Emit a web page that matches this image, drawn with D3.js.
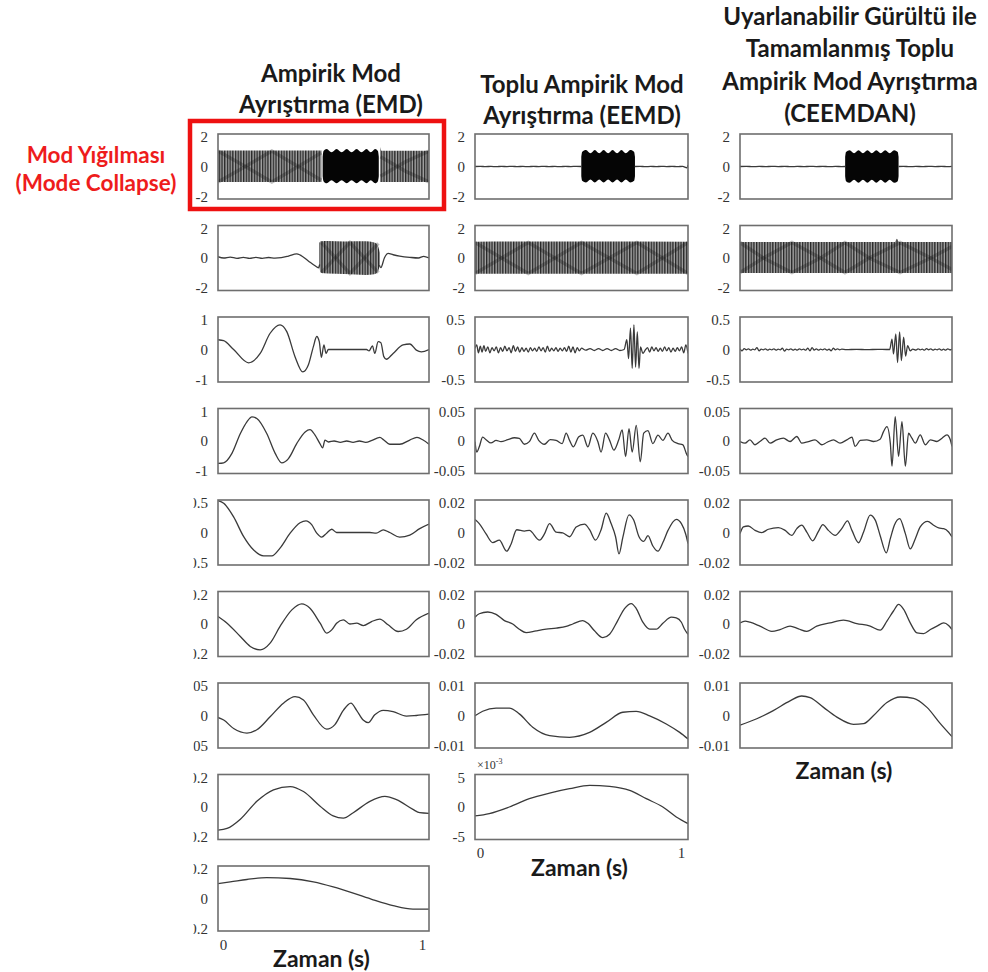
<!DOCTYPE html>
<html>
<head>
<meta charset="utf-8">
<script src="https://cdn.jsdelivr.net/npm/d3@7"></script>
<style>
  body { margin: 0; background: #fff; }
  svg { display: block; }
  .title { font-family: Lato, "Open Sans", sans-serif; font-weight: 700; fill: #1a1a1a; }
</style>
</head>
<body>
<script>
// column titles / labels
var titleEMD = ["Ampirik Mod", "Ayrıştırma (EMD)"];
var titleEEMD = ["Toplu Ampirik Mod", "Ayrıştırma (EEMD)"];
var titleCEEMDAN = ["Uyarlanabilir Gürültü ile", "Tamamlanmış Toplu", "Ampirik Mod Ayrıştırma", "(CEEMDAN)"];
var collapseLabel = ["Mod Yığılması", "(Mode Collapse)"];
var xTickLabels = ["0", "1"];

// y range (top tick) of each panel
var emdMax = [2, 2, 1, 1, 0.5, 0.2, 0.05, 0.2, 0.2];
var eemdMax = [2, 2, 0.5, 0.05, 0.02, 0.02, 0.01, 5];
var ceemMax = [2, 2, 0.5, 0.05, 0.02, 0.02, 0.01];

// dense oscillation envelopes: [t, upper, lower]
var emd1HatchA = [[0, 0.98, -0.95], [0.49, 0.98, -0.95]];
var emd1Block = [[0.496, 0.6, -0.6], [0.5, 0.95, -0.9], [0.515, 1.08, -1.03], [0.538, 0.88, -0.84], [0.562, 1.08, -1.03], [0.586, 0.88, -0.84], [0.61, 1.08, -1.03], [0.633, 0.88, -0.84], [0.657, 1.08, -1.03], [0.68, 0.88, -0.84], [0.704, 1.08, -1.03], [0.724, 0.88, -0.84], [0.745, 1.08, -1.03], [0.758, 0.95, -0.9], [0.762, 0.6, -0.6]];
var emd1HatchB = [[0.768, 1.2, -0.95], [0.775, 0.97, -0.95], [1, 0.97, -0.95]];
var emd2Hatch = [[0.48, 0.93, -0.48], [0.487, 1.03, -0.9], [0.52, 1.05, -0.95], [0.6, 1.02, -0.98], [0.7, 1.03, -1.04], [0.74, 0.95, -1.0], [0.755, 0.83, -0.89], [0.767, 0.32, -0.48]];
var eemd1Block = [[0.499, 0.6, -0.6], [0.503, 0.9, -0.88], [0.521, 1.02, -0.98], [0.542, 0.82, -0.8], [0.5625, 1.02, -0.98], [0.583, 0.82, -0.8], [0.604, 1.02, -0.98], [0.625, 0.82, -0.8], [0.646, 1.02, -0.98], [0.667, 0.82, -0.8], [0.6875, 1.02, -0.98], [0.708, 0.82, -0.8], [0.729, 1.02, -0.98], [0.747, 0.9, -0.88], [0.751, 0.6, -0.6]];
var eemd2Hatch = [[0, 1.0, -0.97], [0.5, 1.02, -0.97], [1, 1.0, -0.97]];
var ceem1Block = [[0.496, 0.6, -0.6], [0.5, 0.9, -0.9], [0.517, 1.0, -1.0], [0.538, 0.82, -0.82], [0.559, 1.0, -1.0], [0.58, 0.82, -0.82], [0.601, 1.0, -1.0], [0.622, 0.82, -0.82], [0.643, 1.0, -1.0], [0.664, 0.82, -0.82], [0.685, 1.0, -1.0], [0.706, 0.82, -0.82], [0.727, 1.0, -1.0], [0.744, 0.9, -0.9], [0.748, 0.6, -0.6]];
var ceem2Hatch = [[0, 0.98, -0.92], [0.73, 0.98, -0.92], [0.74, 1.19, -0.92], [0.75, 0.98, -0.92], [1, 0.98, -0.92]];

// beat pattern (crossing streaks) inside the dense bands: [t, value]
var emd1BeatA = [[0, 0.95], [0.13, 0], [0.255, -0.95], [0.38, 0], [0.49, 0.85], null, [0.77, -0.6], [0.89, 0.3], [1, 0.95]];
var emd1BeatB = [[0, -0.95], [0.13, 0], [0.255, 0.95], [0.38, 0], [0.49, -0.85], null, [0.77, 0.6], [0.89, -0.3], [1, -0.95]];
var emd2BeatA = [[0.49, 0.95], [0.625, -0.95], [0.76, 0.9]];
var emd2BeatB = [[0.49, -0.9], [0.625, 0.95], [0.76, -0.9]];
var eemd2BeatA = [[0, 0.95], [0.125, 0], [0.25, -0.95], [0.375, 0], [0.5, 0.95], [0.63, 0], [0.76, -0.95], [0.88, 0], [1, 0.95]];
var eemd2BeatB = [[0, -0.95], [0.125, 0], [0.25, 0.95], [0.375, 0], [0.5, -0.95], [0.63, 0], [0.76, 0.95], [0.88, 0], [1, -0.95]];
var ceem2BeatA = [[0, 0.95], [0.11, 0], [0.245, -0.9], [0.38, 0], [0.495, 0.95], [0.61, 0], [0.755, -0.9], [0.9, 0], [1, 0.7]];
var ceem2BeatB = [[0, -0.9], [0.11, 0], [0.245, 0.95], [0.38, 0], [0.495, -0.9], [0.61, 0], [0.755, 0.95], [0.9, 0], [1, -0.7]];

// line series: [t, value], null = gap
var emd1 = [];
var emd2 = [[0, 0.08], [0.027, 0], [0.058, 0.06], [0.09, -0.02], [0.12, 0.04], [0.15, -0.02], [0.18, 0.04], [0.21, -0.02], [0.24, 0.03], [0.27, -0.01], [0.3, 0.02], [0.334, 0.12], [0.373, 0.26], [0.39, 0.18], [0.428, -0.18], [0.46, -0.48], [0.476, -0.6], [0.482, -0.4], null,
  [0.765, -0.45], [0.772, -0.59], [0.789, 0.02], [0.806, 0.28], [0.83, 0.2], [0.861, 0.12], [0.909, 0.04], [0.95, 0], [0.975, 0.1], [1, 0]];
var emd3 = [[0, 0.3], [0.027, 0.27], [0.074, 0], [0.145, -0.41], [0.2, -0.12], [0.247, 0.5], [0.294, 0.76], [0.326, 0.55], [0.365, -0.22], [0.402, -0.69], [0.428, -0.48], [0.452, 0.09], [0.468, 0.4], [0.48, 0.24], [0.49, -0.24], [0.502, 0.14], [0.512, -0.12], [0.523, 0], [0.704, 0], [0.716, -0.04], [0.732, 0.11], [0.743, -0.12], [0.759, 0.24], [0.772, 0.21], [0.786, -0.22], [0.798, -0.3], [0.83, -0.12], [0.877, 0.14], [0.909, 0.17], [0.94, -0.02], [0.964, -0.07], [1, 0]];
var emd4 = [[0, -0.69], [0.027, -0.67], [0.066, -0.38], [0.106, 0.23], [0.137, 0.59], [0.161, 0.74], [0.184, 0.69], [0.231, 0.23], [0.271, -0.38], [0.302, -0.67], [0.334, -0.54], [0.373, -0.08], [0.413, 0.28], [0.436, 0.35], [0.46, 0.18], [0.483, -0.08], [0.496, -0.21], [0.507, 0.03], [0.523, -0.03], [0.55, 0], [0.58, -0.04], [0.61, 0], [0.64, -0.04], [0.67, 0], [0.7, -0.04], [0.73, 0.02], [0.767, 0.11], [0.786, 0.03], [0.814, -0.1], [0.861, -0.1], [0.909, 0.03], [0.943, 0.11], [0.972, 0.03], [1, -0.1]];
var emd5 = [[0, 0.49], [0.027, 0.45], [0.074, 0.24], [0.121, -0.06], [0.169, -0.27], [0.216, -0.36], [0.255, -0.36], [0.294, -0.24], [0.342, -0.01], [0.389, 0.15], [0.417, 0.18], [0.444, 0.12], [0.468, -0.01], [0.491, -0.07], [0.515, -0.01], [0.539, 0.05], [0.562, 0], [0.61, 0], [0.72, 0], [0.75, -0.01], [0.783, 0.04], [0.814, 0], [0.861, -0.07], [0.909, -0.04], [0.956, 0.06], [1, 0.13]];
var emd6 = [[0, 0.046], [0.043, 0.005], [0.106, -0.077], [0.153, -0.138], [0.2, -0.159], [0.247, -0.118], [0.294, -0.015], [0.35, 0.087], [0.397, 0.124], [0.436, 0.097], [0.484, 0.005], [0.515, -0.056], [0.539, -0.036], [0.562, 0.005], [0.594, 0.026], [0.625, 0], [0.657, 0.005], [0.689, -0.01], [0.728, 0.015], [0.767, 0.03], [0.806, -0.005], [0.854, -0.046], [0.893, -0.032], [0.94, 0.026], [1, 0.067]];
var emd7 = [[0, -0.003], [0.027, -0.007], [0.074, -0.02], [0.137, -0.027], [0.184, -0.022], [0.247, -0.002], [0.31, 0.019], [0.365, 0.029], [0.405, 0.024], [0.452, 0.001], [0.515, -0.021], [0.554, -0.014], [0.594, 0.008], [0.63, 0.019], [0.657, 0.008], [0.688, -0.007], [0.712, -0.011], [0.743, 0.001], [0.783, 0.008], [0.83, 0.006], [0.893, -0.001], [0.94, 0], [1, 0.002]];
var emd8 = [[0, -0.142], [0.043, -0.132], [0.106, -0.075], [0.184, 0.035], [0.263, 0.106], [0.342, 0.126], [0.405, 0.095], [0.484, 0.005], [0.546, -0.055], [0.594, -0.069], [0.641, -0.035], [0.72, 0.035], [0.791, 0.065], [0.846, 0.045], [0.924, -0.015], [0.956, -0.035], [1, -0.039]];
var emd9 = [[0, 0.092], [0.058, 0.102], [0.137, 0.117], [0.231, 0.129], [0.342, 0.123], [0.452, 0.102], [0.546, 0.071], [0.641, 0.033], [0.735, -0.008], [0.83, -0.044], [0.924, -0.065], [1, -0.065]];

var eemd1 = [[0, 0], [0.025, 0.012], [0.05, -0.01], [0.075, 0.008], [0.1, -0.012], [0.125, 0.01], [0.15, -0.008], [0.175, 0.012], [0.2, -0.01], [0.225, 0.008], [0.25, -0.012], [0.275, 0.01], [0.3, -0.008], [0.325, 0.012], [0.35, -0.01], [0.375, 0.008], [0.4, -0.012], [0.425, 0.01], [0.45, -0.008], [0.475, 0.012], [0.5, 0], null,
  [0.75, 0], [0.775, 0.01], [0.8, -0.012], [0.825, 0.008], [0.85, -0.01], [0.875, 0.012], [0.9, -0.008], [0.925, 0.01], [0.95, -0.012], [0.975, 0.01], [0.995, -0.08], [1, 0.1]];
var eemd2 = [];
var eemd3 = [[0, 0.02], [0.008, 0.07], [0.016, -0.05], [0.025, 0.05], [0.033, -0.04], [0.042, 0.06], [0.05, -0.03], [0.06, 0.04], [0.07, -0.05], [0.08, 0.03], [0.09, -0.02], [0.1, 0.04], [0.11, -0.05], [0.12, 0.03], [0.13, -0.03], [0.14, 0.05], [0.15, -0.02], [0.16, 0.03], [0.17, -0.05], [0.18, 0.06], [0.19, -0.03], [0.2, 0.04], [0.21, -0.04], [0.22, 0.03], [0.23, -0.03], [0.24, 0.02], [0.25, -0.04], [0.26, 0.03], [0.27, -0.02], [0.28, 0.02], [0.29, -0.03], [0.3, 0.04], [0.31, -0.02], [0.32, 0.03], [0.33, -0.04], [0.34, 0.05], [0.35, -0.03], [0.36, 0.02], [0.37, -0.02], [0.38, 0.03], [0.39, -0.03], [0.4, 0.02], [0.41, -0.02], [0.42, 0.03], [0.43, -0.03], [0.44, 0.05], [0.45, -0.04], [0.46, 0.04], [0.47, -0.05], [0.48, 0.03], [0.49, -0.02], [0.5, 0.02],
  [0.52, -0.01], [0.54, 0.015], [0.56, -0.015], [0.58, 0.015], [0.6, -0.015], [0.62, 0.015], [0.64, -0.015], [0.66, 0.015], [0.68, -0.015], [0.7, 0],
  [0.713, 0.15], [0.721, -0.14], [0.73, 0.33], [0.738, -0.29], [0.746, 0.38], [0.754, -0.27], [0.762, 0.27], [0.77, -0.29], [0.777, 0.04], [0.788, -0.06], [0.801, 0],
  [0.81, 0.03], [0.82, -0.04], [0.83, 0.04], [0.84, -0.02], [0.85, 0.03], [0.86, -0.03], [0.87, 0.02], [0.88, -0.03], [0.89, 0.04], [0.9, -0.02], [0.91, 0.03], [0.92, -0.04], [0.93, 0.02], [0.94, -0.03], [0.95, 0.03], [0.96, -0.02], [0.97, 0.04], [0.98, -0.05], [0.99, 0.07], [1, -0.06]];
var eemd4 = [[0, -0.001], [0.008, -0.017], [0.02, -0.009], [0.036, 0.006], [0.052, 0.002], [0.075, -0.003], [0.099, 0.001], [0.122, -0.001], [0.154, 0.002], [0.185, 0.005], [0.208, 0.004], [0.232, -0.005], [0.255, -0.001], [0.279, 0.012], [0.299, 0.001], [0.326, -0.005], [0.353, 0.002], [0.381, 0.001], [0.409, -0.004], [0.428, 0.012], [0.444, 0.001], [0.462, -0.009], [0.486, 0.006], [0.506, 0.009], [0.53, -0.009], [0.553, 0.012], [0.577, -0.001], [0.592, -0.017], [0.613, 0.012], [0.632, 0.001], [0.652, -0.014], [0.674, 0.001], [0.691, 0.017], [0.707, -0.024], [0.723, 0.019], [0.738, -0.017], [0.757, 0.024], [0.776, -0.032], [0.792, 0.012], [0.812, 0.016], [0.835, -0.004], [0.859, 0.009], [0.882, 0.001], [0.906, 0.012], [0.926, 0.001], [0.953, -0.004], [0.976, -0.006], [0.992, -0.019], [1, -0.024]];
var eemd5 = [[0, 0.008], [0.02, 0.0055], [0.052, -0.0009], [0.083, -0.0062], [0.114, -0.0047], [0.149, -0.0115], [0.169, -0.0072], [0.196, 0.0017], [0.232, 0.0009], [0.255, 0.0013], [0.303, -0.0047], [0.326, -0.0009], [0.35, 0.0055], [0.381, 0.0002], [0.412, -0.0002], [0.444, -0.0026], [0.475, 0.0034], [0.514, 0.0051], [0.538, 0.0017], [0.566, -0.0047], [0.592, 0.0017], [0.616, 0.0119], [0.639, 0.0055], [0.66, -0.0026], [0.676, -0.0132], [0.694, -0.003], [0.723, 0.0109], [0.745, 0.0077], [0.77, -0.0026], [0.792, -0.0055], [0.812, -0.0019], [0.835, -0.0083], [0.859, -0.0115], [0.882, -0.0062], [0.906, 0.0013], [0.945, 0.0081], [0.969, 0.0055], [0.989, -0.0009], [1, -0.0068]];
var eemd6 = [[0, 0.0042], [0.02, 0.0063], [0.06, 0.0074], [0.099, 0.0059], [0.138, 0.0021], [0.177, 0], [0.208, -0.0032], [0.24, -0.0053], [0.287, -0.0042], [0.334, -0.0032], [0.381, -0.0025], [0.428, -0.0015], [0.459, 0], [0.506, 0.0021], [0.53, 0.0004], [0.561, -0.0042], [0.6, -0.0084], [0.632, -0.0063], [0.67, 0.0021], [0.702, 0.0095], [0.734, 0.0126], [0.757, 0.0095], [0.788, 0.0011], [0.82, -0.0032], [0.851, -0.0032], [0.882, 0.0004], [0.922, 0.0042], [0.945, 0.0038], [0.969, 0.0011], [0.984, -0.0032], [1, -0.0063]];
var eemd7 = [[0, -0.0001], [0.036, 0.0013], [0.099, 0.0023], [0.161, 0.0023], [0.208, 0.0005], [0.271, -0.0036], [0.35, -0.0062], [0.444, -0.0067], [0.538, -0.0052], [0.616, -0.0021], [0.694, 0.001], [0.757, 0.0013], [0.82, -0.0001], [0.898, -0.0026], [0.961, -0.0052], [1, -0.0072]];
var eemd8 = [[0, -1.38], [0.067, -1.02], [0.161, 0], [0.255, 1.28], [0.35, 2.14], [0.444, 2.81], [0.538, 3.32], [0.632, 3.16], [0.726, 2.55], [0.804, 1.28], [0.882, 0], [0.945, -1.53], [1, -2.55]];

var ceem1 = [[0, 0], [0.03, 0.01], [0.06, -0.012], [0.09, 0.008], [0.12, -0.01], [0.15, 0.012], [0.18, -0.008], [0.21, 0.01], [0.24, -0.012], [0.27, 0.008], [0.3, -0.01], [0.33, 0.012], [0.36, -0.008], [0.39, 0.01], [0.42, -0.012], [0.45, 0.008], [0.48, -0.01], [0.496, 0], null,
  [0.748, 0], [0.77, 0.01], [0.8, -0.012], [0.83, 0.008], [0.86, -0.01], [0.89, 0.012], [0.92, -0.008], [0.95, 0.01], [0.98, -0.012], [1, 0.01]];
var ceem2 = [];
var ceem3 = [[0, 0.01], [0.01, -0.02], [0.02, 0.015], [0.03, -0.005], [0.04, 0.01], [0.05, -0.01], [0.06, 0.005], [0.07, -0.005], [0.08, 0.03], [0.09, -0.02], [0.1, 0.005], [0.11, -0.005], [0.12, 0.01], [0.13, -0.01], [0.14, 0.005], [0.15, -0.005], [0.16, 0.01], [0.17, -0.01], [0.18, 0.005], [0.19, -0.005], [0.2, 0.02], [0.21, -0.025], [0.22, 0.005], [0.23, -0.005], [0.24, 0.01], [0.25, -0.01], [0.26, 0.005], [0.27, -0.01], [0.28, 0.01], [0.29, -0.005], [0.3, 0.005], [0.31, -0.01], [0.32, 0.02], [0.33, -0.02], [0.34, 0.03], [0.35, -0.01], [0.36, 0.01], [0.37, -0.01], [0.38, 0.005], [0.39, -0.005], [0.4, 0.01], [0.41, -0.01], [0.42, 0.005], [0.43, -0.02], [0.44, 0.02], [0.45, -0.005], [0.46, 0.01], [0.47, -0.005], [0.48, 0.005], [0.5, -0.003], [0.55, 0.003], [0.6, -0.003], [0.65, 0.003], [0.69, 0], [0.706, 0],
  [0.717, 0.16], [0.724, -0.07], [0.735, 0.24], [0.743, -0.2], [0.753, 0.27], [0.761, -0.17], [0.772, 0.19], [0.781, -0.1], [0.791, 0.06], [0.803, -0.02],
  [0.815, 0.005], [0.83, -0.01], [0.84, 0.01], [0.85, -0.005], [0.86, 0.005], [0.87, -0.01], [0.88, 0.015], [0.89, -0.005], [0.9, 0.01], [0.91, -0.01], [0.92, 0.005], [0.93, -0.005], [0.94, 0.01], [0.95, -0.01], [0.96, 0.005], [0.97, -0.01], [0.98, 0.01], [0.99, -0.005], [1, 0.005]];
var ceem4 = [[0, -0.0008], [0.024, -0.0033], [0.047, 0.0018], [0.071, -0.0058], [0.094, -0.0008], [0.118, 0.0043], [0.142, -0.0033], [0.173, 0.0018], [0.205, 0.0043], [0.236, -0.0008], [0.268, 0.0069], [0.291, -0.0033], [0.323, -0.0008], [0.354, 0.0018], [0.386, -0.0058], [0.409, -0.0023], [0.441, 0.0018], [0.472, -0.0033], [0.504, 0.0018], [0.528, 0.0058], [0.543, -0.0084], [0.567, 0.0008], [0.598, 0.0018], [0.63, -0.0008], [0.661, 0.0028], [0.677, 0.0145], [0.693, 0.0221], [0.709, -0.0033], [0.717, -0.0388], [0.732, 0.0373], [0.748, -0.0236], [0.764, 0.0297], [0.78, -0.0388], [0.795, 0.0119], [0.811, 0.0043], [0.827, -0.0033], [0.85, 0.0094], [0.874, -0.0058], [0.898, 0.0018], [0.929, -0.0008], [0.953, 0.0043], [0.976, 0.0094], [0.992, 0.0018], [1, -0.0084]];
var ceem5 = [[0, -0.0007], [0.016, 0.0034], [0.039, 0.004], [0.071, 0.0013], [0.102, -0.0001], [0.134, 0.002], [0.181, 0.003], [0.213, 0.0013], [0.244, -0.0018], [0.268, 0.0024], [0.291, 0.0045], [0.315, 0.0003], [0.343, -0.0051], [0.37, 0.0007], [0.391, 0.0049], [0.417, 0.0013], [0.449, -0.0018], [0.48, 0.0024], [0.507, 0.0072], [0.528, 0.0013], [0.559, -0.0063], [0.583, 0.0003], [0.614, 0.0107], [0.638, 0.0076], [0.661, -0.0018], [0.69, -0.0125], [0.709, -0.0038], [0.728, 0.0045], [0.753, 0.0086], [0.78, -0.0007], [0.803, -0.0101], [0.827, -0.0038], [0.85, 0.0034], [0.885, 0.0069], [0.913, 0.0045], [0.937, 0.0028], [0.961, 0.0024], [0.984, 0.0003], [1, -0.0028]];
var ceem6 = [[0, 0.0007], [0.024, 0.0018], [0.047, 0.0011], [0.094, -0.0013], [0.15, -0.0045], [0.189, -0.0034], [0.236, -0.0013], [0.276, -0.003], [0.315, -0.0045], [0.362, -0.0013], [0.425, 0.0007], [0.488, 0.0024], [0.551, 0.0003], [0.614, -0.0013], [0.661, -0.0038], [0.693, 0.0018], [0.724, 0.008], [0.748, 0.0121], [0.772, 0.009], [0.803, 0.0007], [0.835, -0.0055], [0.866, -0.0059], [0.898, -0.0034], [0.929, -0.0013], [0.961, 0.0007], [0.984, -0.0009], [1, -0.0034]];
var ceem7 = [[0, -0.003], [0.079, -0.001], [0.157, 0.0015], [0.236, 0.0045], [0.291, 0.006], [0.331, 0.0055], [0.394, 0.0025], [0.457, -0.0005], [0.535, -0.0027], [0.583, -0.0025], [0.63, 0], [0.693, 0.004], [0.756, 0.0057], [0.819, 0.0053], [0.882, 0.0025], [0.945, -0.0025], [1, -0.0065]];

var W = 988, H = 972;
var colLeft = [218, 475, 740],
    colRight = [429, 688, 952],
    colCenter = [331, 582, 850],
    rowTop0 = 134,
    rowStep = 91.5,
    panelH = 65;

var columns = [
  { max: emdMax, lines: [emd1, emd2, emd3, emd4, emd5, emd6, emd7, emd8, emd9],
    bands: [[{ pts: emd1HatchA, kind: "hatch" }, { pts: emd1Block, kind: "solid" }, { pts: emd1HatchB, kind: "hatch" }], [{ pts: emd2Hatch, kind: "hatch" }]],
    beats: [[emd1BeatA, emd1BeatB], [emd2BeatA, emd2BeatB]] },
  { max: eemdMax, lines: [eemd1, eemd2, eemd3, eemd4, eemd5, eemd6, eemd7, eemd8],
    bands: [[{ pts: eemd1Block, kind: "solid" }], [{ pts: eemd2Hatch, kind: "hatch" }]],
    beats: [[], [eemd2BeatA, eemd2BeatB]] },
  { max: ceemMax, lines: [ceem1, ceem2, ceem3, ceem4, ceem5, ceem6, ceem7],
    bands: [[{ pts: ceem1Block, kind: "solid" }], [{ pts: ceem2Hatch, kind: "hatch" }]],
    beats: [[], [ceem2BeatA, ceem2BeatB]] }
];

var svg = d3.select("body").append("svg")
    .attr("width", W)
    .attr("height", H);

var defs = svg.append("defs");
var hatch = defs.append("pattern")
    .attr("id", "hatch")
    .attr("patternUnits", "userSpaceOnUse")
    .attr("width", 2.7)
    .attr("height", 10);
hatch.append("rect").attr("width", 2.7).attr("height", 10).attr("fill", "#a6a6a6");
hatch.append("rect").attr("width", 1.35).attr("height", 10).attr("fill", "#262626");

// first column labels are cut off on the left in the source image
defs.append("clipPath").attr("id", "labelClip")
  .append("rect").attr("x", 193.5).attr("y", 0).attr("width", W).attr("height", H);

function fmt(v) { return v === 0 ? "0" : String(v); }

function styleTicks(sel) {
  sel.selectAll(".tick text")
      .attr("font-family", "'Times New Roman', 'Liberation Serif', serif")
      .style("font-family", "'Times New Roman', 'Liberation Serif', serif")
      .style("font-size", "15px")
      .style("fill", "#333");
}

columns.forEach(function(col, c) {
  var x = d3.scaleLinear().domain([0, 1]).range([colLeft[c], colRight[c]]);

  col.max.forEach(function(m, r) {
    var top = rowTop0 + rowStep * r,
        bottom = top + panelH;
    var y = d3.scaleLinear().domain([-m, m]).range([bottom, top]);
    var id = "clip-" + c + "-" + r;

    defs.append("clipPath").attr("id", id)
      .append("rect")
      .attr("x", colLeft[c]).attr("y", top)
      .attr("width", colRight[c] - colLeft[c]).attr("height", panelH);

    var g = svg.append("g").attr("class", "panel");
    var plot = g.append("g").attr("clip-path", "url(#" + id + ")");

    var bands = col.bands[r] || [];
    bands.forEach(function(b) {
      var area = d3.area()
          .x(function(d) { return x(d[0]); })
          .y0(function(d) { return y(d[2]); })
          .y1(function(d) { return y(d[1]); })
          .curve(d3.curveMonotoneX);
      plot.append("path")
          .datum(b.pts)
          .attr("d", area)
          .attr("fill", b.kind == "solid" ? "#050505" : "url(#hatch)");
    });

    var line = d3.line()
        .defined(function(d) { return d !== null; })
        .x(function(d) { return x(d[0]); })
        .y(function(d) { return y(d[1]); });

    (col.beats[r] || []).forEach(function(b) {
      plot.append("path")
          .datum(b)
          .attr("d", line.curve(d3.curveLinear))
          .attr("fill", "none")
          .attr("stroke", "#111")
          .attr("stroke-opacity", 0.28)
          .attr("stroke-width", 3.5);
    });

    if (col.lines[r].length) {
      plot.append("path")
          .datum(col.lines[r])
          .attr("d", line.curve(d3.curveMonotoneX))
          .attr("fill", "none")
          .attr("stroke", "#3a3a3a")
          .attr("stroke-width", 1.3)
          .attr("stroke-linejoin", "round");
    }

    g.append("rect")
        .attr("x", colLeft[c]).attr("y", top)
        .attr("width", colRight[c] - colLeft[c]).attr("height", panelH)
        .attr("fill", "none")
        .attr("stroke", "#6e6e6e")
        .attr("stroke-width", 1.6);

    var axisWrap = g.append("g");
    if (c == 0) axisWrap.attr("clip-path", "url(#labelClip)");
    var yAxis = axisWrap.append("g")
        .attr("transform", "translate(" + colLeft[c] + ",0)")
        .call(d3.axisLeft(y).tickValues([m, 0, -m]).tickSize(0).tickPadding(10).tickFormat(fmt));
    yAxis.select(".domain").remove();
    styleTicks(yAxis);
    yAxis.selectAll(".tick text")
        .attr("dy", function(d) { return d > 0 ? "0.5em" : (d < 0 ? "0.15em" : "0.32em"); });

    if (c == 1 && r == 7) {
      var sci = g.append("text")
          .attr("x", colLeft[c] + 2).attr("y", top - 6)
          .attr("font-family", "'Times New Roman', 'Liberation Serif', serif")
          .attr("font-size", 12)
          .attr("fill", "#333")
          .text("×10");
      sci.append("tspan").attr("dy", -5).attr("font-size", 8).text("-3");
    }

    var last = r == col.max.length - 1;
    if (last && c < 2) {
      var xAxis = g.append("g")
          .attr("transform", "translate(0," + bottom + ")")
          .call(d3.axisBottom(x).tickValues([0, 1]).tickSize(0).tickPadding(8).tickFormat(function(d, i) { return xTickLabels[i]; }));
      xAxis.select(".domain").remove();
      styleTicks(xAxis);
      xAxis.selectAll(".tick text").attr("dx", function(d) { return d == 0 ? 5 : -7; });
    }
    if (last) {
      svg.append("text")
          .attr("class", "title")
          .attr("x", (colLeft[c] + colRight[c]) / 2 - 2)
          .attr("y", bottom + (c < 2 ? 36 : 31))
          .attr("text-anchor", "middle")
          .attr("font-size", 23)
          .text("Zaman (s)");
    }
  });
});

function titleBlock(lines, cx, y0, step, size, color) {
  svg.append("g").selectAll("text")
      .data(lines)
      .enter().append("text")
      .attr("class", "title")
      .attr("x", cx)
      .attr("y", function(d, i) { return y0 + i * step; })
      .attr("text-anchor", "middle")
      .attr("font-size", size)
      .style("fill", color)
      .text(function(d) { return d; });
}

titleBlock(titleEMD, colCenter[0], 82, 31, 24, "#1a1a1a");
titleBlock(titleEEMD, colCenter[1], 93, 31, 24, "#1a1a1a");
titleBlock(titleCEEMDAN, colCenter[2], 25, 32.3, 24, "#1a1a1a");
titleBlock(collapseLabel, 96, 163, 28, 22.5, "#ee1c1c");

// mode collapse frame
svg.append("rect")
    .attr("x", 190).attr("y", 121)
    .attr("width", 254).attr("height", 88)
    .attr("fill", "none")
    .attr("stroke", "#ee1111")
    .attr("stroke-width", 4.5);
</script>
</body>
</html>
